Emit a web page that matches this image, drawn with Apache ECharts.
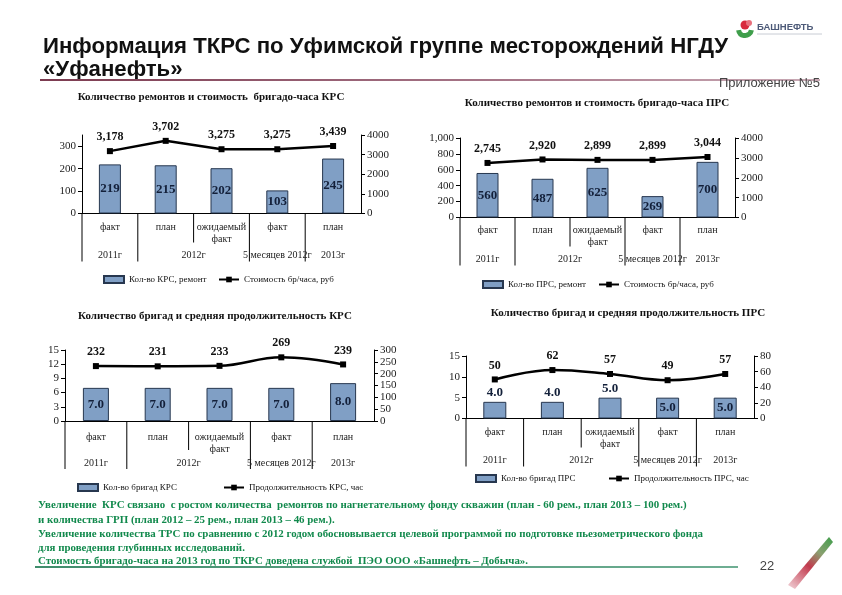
<!DOCTYPE html>
<html><head><meta charset="utf-8">
<script src="https://cdn.jsdelivr.net/npm/echarts@6/dist/echarts.min.js"></script>
<style>html,body{margin:0;padding:0;background:#fff}#c{width:842px;height:595px}</style>
</head><body><div id="c"></div>
<script>
// ---- data ----
const categories = ['факт', 'план', 'ожидаемый\nфакт', 'факт', 'план'];
const groupLabels = ['2011г', '2012г', '5 месяцев 2012г', '2013г'];
const krsRepairs = [219, 215, 202, 103, 245];
const krsHourCost = [3178, 3702, 3275, 3275, 3439];
const prsRepairs = [560, 487, 625, 269, 700];
const prsHourCost = [2745, 2920, 2899, 2899, 3044];
const krsCrews = [7, 7, 7, 7, 8];
const krsDuration = [232, 231, 233, 269, 239];
const prsCrews = [4, 4, 5, 5, 5];
const prsDuration = [50, 62, 57, 49, 57];
const chartTitles = [
  'Количество ремонтов и стоимость  бригадо-часа КРС',
  'Количество ремонтов и стоимость бригадо-часа ПРС',
  'Количество бригад и средняя продолжительность КРС',
  'Количество бригад и средняя продолжительность ПРС'
];
const barNames = ['Кол-во КРС, ремонт', 'Кол-во ПРС, ремонт', 'Кол-во бригад КРС', 'Кол-во бригад ПРС'];
const lineNames = ['Стоимость бр/часа, руб', 'Стоимость бр/часа, руб ', 'Продолжительность КРС, час', 'Продолжительность ПРС, час'];
const noteLines = [
  'Увеличение  КРС связано  с ростом количества  ремонтов по нагнетательному фонду скважин (план - 60 рем., план 2013 – 100 рем.)',
  'и количества ГРП (план 2012 – 25 рем., план 2013 – 46 рем.).',
  'Увеличение количества ТРС по сравнению с 2012 годом обосновывается целевой программой по подготовке пьезометрического фонда',
  'для проведения глубинных исследований.',
  'Стоимость бригадо-часа на 2013 год по ТКРС доведена службой  ПЭО ООО «Башнефть – Добыча».'
];

const SERIF = '"Liberation Serif","DejaVu Serif",serif';
const SANS = '"Liberation Sans",Arial,sans-serif';
const BAR = '#809fc5', BARB = '#27374f';
const fmtK = v => Number(v).toLocaleString('en-US');
const fmt1 = v => Number(v).toFixed(1);

// layout per chart
const L = [
  {left: 82, right: 361, top: 135, bottom: 213.5, lmax: 350, lint: 100, rmax: 4000, rint: 1000, bw: 22, smooth: false,
   bars: krsRepairs, line: krsHourCost, lfmt: null, blfmt: null, llfmt: fmtK, hideMax: true,
   legBar: [103, 281], legLine: [218, 281], title: [211, 97], catMargin: 8},
  {left: 460, right: 735, top: 138, bottom: 217.5, lmax: 1000, lint: 200, rmax: 4000, rint: 1000, bw: 22, smooth: false,
   bars: prsRepairs, line: prsHourCost, lfmt: fmtK, blfmt: null, llfmt: fmtK, hideMax: false,
   legBar: [482, 286], legLine: [598, 286], title: [597, 103], catMargin: 7},
  {left: 65, right: 374, top: 350, bottom: 421, lmax: 15, lint: 3, rmax: 300, rint: 50, bw: 26, smooth: true,
   bars: krsCrews, line: krsDuration, lfmt: null, blfmt: fmt1, llfmt: null, hideMax: false,
   legBar: [77, 489], legLine: [223, 489], title: [215, 316], catMargin: 10},
  {left: 466, right: 754, top: 356, bottom: 418.5, lmax: 15, lint: 5, rmax: 80, rint: 20, bw: 23, smooth: true,
   bars: prsCrews, line: prsDuration, lfmt: null, blfmt: fmt1, llfmt: null, hideMax: false,
   legBar: [475, 480], legLine: [608, 480], title: [628, 313], catMargin: 8}
];

const grid = [], xAxis = [], yAxis = [], series = [], legend = [];
L.forEach((c, i) => {
  grid.push({left: c.left, width: c.right - c.left, top: c.top, height: c.bottom - c.top});
  xAxis.push({type: 'category', gridIndex: i, data: categories,
    axisLine: {lineStyle: {color: '#000', width: 1}}, axisTick: {show: false},
    axisLabel: {fontFamily: SERIF, fontSize: 10, color: '#222', margin: c.catMargin, lineHeight: 12, interval: 0}});
  const yBase = {type: 'value', gridIndex: i, min: 0, splitLine: {show: false},
    axisLine: {show: true, lineStyle: {color: '#000', width: 1}},
    axisTick: {show: true, length: 4, lineStyle: {color: '#000'}}};
  yAxis.push(Object.assign({}, yBase, {position: 'left', max: c.lmax, interval: c.lint,
    axisLabel: {fontFamily: SERIF, fontSize: 11, color: '#222', margin: 6, showMaxLabel: !c.hideMax,
      formatter: c.lfmt || (v => String(v))}}));
  yAxis.push(Object.assign({}, yBase, {position: 'right', max: c.rmax, interval: c.rint,
    axisLabel: {fontFamily: SERIF, fontSize: 11, color: '#222', margin: 6, formatter: v => String(v)}}));
  series.push({type: 'bar', name: barNames[i], xAxisIndex: i, yAxisIndex: 2 * i, barWidth: c.bw,
    data: c.bars.map((v, k) => (i === 3 ? {value: v, label: {position: k < 3 ? 'top' : 'inside'}} : v)),
    itemStyle: {color: BAR, borderColor: BARB, borderWidth: 1},
    label: {show: true, position: 'inside', distance: 3, fontFamily: SERIF, fontWeight: 'bold', fontSize: 13, color: '#13203a',
      formatter: p => (c.blfmt ? c.blfmt(p.value) : String(p.value))}});
  series.push({type: 'line', name: lineNames[i], xAxisIndex: i, yAxisIndex: 2 * i + 1, data: c.line,
    smooth: c.smooth ? 0.4 : false, symbol: 'rect', symbolSize: 6,
    lineStyle: {color: '#000', width: 2.5}, itemStyle: {color: '#000'},
    label: {show: true, position: 'top', distance: 5, fontFamily: SERIF, fontWeight: 'bold', fontSize: 12, color: '#111',
      formatter: p => (c.llfmt ? c.llfmt(p.value) : String(p.value))}});
  const legText = {fontFamily: SERIF, fontSize: 9, color: '#111'};
  legend.push({left: c.legBar[0], top: c.legBar[1] - 6, itemWidth: 20, itemHeight: 7, itemGap: 4, padding: 0,
    data: [{name: barNames[i], icon: 'rect'}], textStyle: legText, selectedMode: false});
  legend.push({left: c.legLine[0], top: c.legLine[1] - 6, itemWidth: 20, itemHeight: 7, itemGap: 4, padding: 0,
    data: [lineNames[i]], textStyle: legText, selectedMode: false});
});

const chart = echarts.init(document.getElementById('c'), null, {renderer: 'canvas'});
chart.setOption({animation: false, backgroundColor: '#fff', grid, xAxis, yAxis, series, legend});

// ---- decorations & text ----
const g = [];
const txt = (x, y, s, st) => g.push({type: 'text', x, y, silent: true,
  style: Object.assign({text: s, fill: '#000', verticalAlign: 'middle'}, st)});
const ln = (x1, y1, x2, y2, stroke, w) => g.push({type: 'line', silent: true,
  shape: {x1, y1, x2, y2}, style: {stroke, lineWidth: w || 1}});

// main title
txt(43, 47, 'Информация ТКРС по Уфимской группе месторождений НГДУ', {font: 'bold 22.2px ' + SANS, fill: '#111'});
txt(43, 70, '«Уфанефть»', {font: 'bold 22.2px ' + SANS, fill: '#111'});
g.push({type: 'rect', silent: true, shape: {x: 40, y: 79, width: 780, height: 2},
  style: {fill: new echarts.graphic.LinearGradient(0, 0, 1, 0, [
    {offset: 0, color: '#7c3b50'}, {offset: 0.6, color: '#a8788a'}, {offset: 1, color: '#c9aab5'}])}});
txt(820, 83, 'Приложение №5', {font: '13px ' + SANS, fill: '#444', align: 'right'});

// logo
g.push({type: 'sector', silent: true, shape: {cx: 745, cy: 29, r: 9, r0: 4, startAngle: Math.PI * 0.05, endAngle: Math.PI * 0.95},
  style: {fill: '#3f9e4b'}});
g.push({type: 'circle', silent: true, shape: {cx: 745, cy: 25, r: 4.5}, style: {fill: '#d8283b'}});
g.push({type: 'circle', silent: true, shape: {cx: 749, cy: 23, r: 3}, style: {fill: '#e8707c'}});
txt(757, 27, 'БАШНЕФТЬ', {font: 'bold 9.5px ' + SANS, fill: '#4d5a78'});
ln(757, 34, 822, 34, '#c8ccd4', 1);

// chart titles
L.forEach((c, i) => txt(c.title[0], c.title[1], chartTitles[i], {font: 'bold 11px ' + SERIF, fill: '#111', align: 'center'}));

// dividers & group labels via axis scales
L.forEach((c, i) => {
  const y0 = chart.convertToPixel({yAxisIndex: 2 * i}, 0);
  const cx = k => chart.convertToPixel({xAxisIndex: i}, k);
  const bw = cx(1) - cx(0);
  const b = k => cx(0) - bw / 2 + k * bw;
  [0, 1, 3, 4].forEach(k => ln(b(k), y0, b(k), y0 + 48, '#000', 1));
  ln(b(2), y0, b(2), y0 + 29, '#000', 1);
  const gx = [cx(0), (cx(1) + cx(2)) / 2, cx(3), cx(4)];
  gx.forEach((x, k) => txt(x, y0 + 42, groupLabels[k], {font: '10px ' + SERIF, fill: '#222', align: 'center'}));
});

// notes
const noteY = [505, 520, 534, 548, 561];
noteLines.forEach((s, k) => txt(38, noteY[k], s, {font: 'bold 10.9px ' + SERIF, fill: '#11894c'}));
g.push({type: 'rect', silent: true, shape: {x: 35, y: 566, width: 703, height: 2},
  style: {fill: new echarts.graphic.LinearGradient(0, 0, 1, 0, [
    {offset: 0, color: '#3f8d6c'}, {offset: 1, color: '#6fae93'}])}});
txt(767, 566, '22', {font: '13px ' + SANS, fill: '#444', align: 'center'});
g.push({type: 'polygon', silent: true, shape: {points: [[788, 585], [795, 589], [833, 542], [829, 537]]},
  style: {fill: new echarts.graphic.LinearGradient(0, 1, 1, 0, [
    {offset: 0, color: '#f2d5da'}, {offset: 0.45, color: '#c23a4e'}, {offset: 0.7, color: '#8aa070'}, {offset: 1, color: '#3f9e4b'}])}});

chart.setOption({graphic: g});
</script></body></html>
